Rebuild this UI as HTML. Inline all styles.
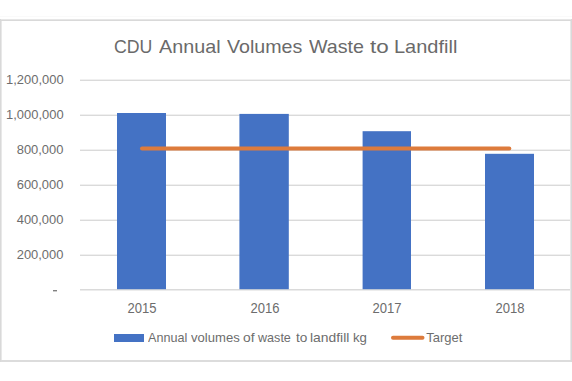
<!DOCTYPE html>
<html>
<head>
<meta charset="utf-8">
<style>
html,body{margin:0;padding:0;background:#fff;}
body{width:572px;height:381px;position:relative;overflow:hidden;font-family:"Liberation Sans",sans-serif;color:#6d6d6d;}
.t{position:absolute;white-space:nowrap;line-height:15px;font-size:13px;}
.yl{position:absolute;right:508.5px;white-space:nowrap;line-height:15px;font-size:13.4px;text-align:right;transform-origin:100% 0;transform:scaleX(0.965);}
.tw{position:absolute;top:36px;color:#6a6a6a;font-size:19px;line-height:21px;white-space:nowrap;transform-origin:0 0;}
svg{position:absolute;left:0;top:0;}
.lw{position:absolute;top:330.4px;font-size:13px;line-height:15px;white-space:nowrap;transform-origin:0 0;}
.xl{position:absolute;top:300.8px;width:60px;text-align:center;white-space:nowrap;line-height:15px;font-size:13.8px;transform:scaleX(0.945);}
</style>
</head>
<body>
<svg width="572" height="381" viewBox="0 0 572 381">
  <rect x="0" y="16" width="572" height="1" fill="#fafafa"/>
  <rect x="0" y="19" width="572" height="1" fill="#e6e6e6"/>
  <rect x="0" y="20" width="572" height="1" fill="#d9d9d9"/>
  <rect x="0" y="360" width="572" height="2" fill="#dcdcdc"/>
  <rect x="0" y="19" width="1" height="343" fill="#d9d9d9"/>
  <rect x="1" y="21" width="1" height="339" fill="#e8e8e8"/>
  <rect x="570" y="21" width="1" height="339" fill="#e8e8e8"/>
  <rect x="571" y="19" width="1" height="343" fill="#d9d9d9"/>
  <g fill="#dadada">
    <rect x="80" y="79.6" width="490" height="1.4"/>
    <rect x="80" y="114.6" width="490" height="1.4"/>
    <rect x="80" y="149.6" width="490" height="1.4"/>
    <rect x="80" y="184.6" width="490" height="1.4"/>
    <rect x="80" y="219.6" width="490" height="1.4"/>
    <rect x="80" y="254.6" width="490" height="1.4"/>
    <rect x="80" y="289" width="490" height="1.5"/>
  </g>
  <g fill="#4472c4">
    <rect x="117" y="113" width="49" height="176.2"/>
    <rect x="239.4" y="113.9" width="49.4" height="175.3"/>
    <rect x="362.6" y="131.2" width="48.4" height="158"/>
    <rect x="485" y="153.8" width="49" height="135.4"/>
    <rect x="114" y="334" width="30" height="8"/>
  </g>
  <g stroke="#dd7b3c" stroke-width="4" stroke-linecap="round" fill="none">
    <line x1="142" y1="148.4" x2="509.3" y2="148.4"/>
    <line x1="393" y1="337.8" x2="422.5" y2="337.8"/>
  </g>
  <rect x="53" y="290" width="4" height="1.4" fill="#808080"/>
</svg>
<div class="tw" style="left:113.7px;transform:scaleX(0.933)">CDU</div>
<div class="tw" style="left:159.3px;transform:scaleX(1.04)">Annual</div>
<div class="tw" style="left:227.4px;transform:scaleX(1.033)">Volumes</div>
<div class="tw" style="left:308.9px;transform:scaleX(1.035)">Waste</div>
<div class="tw" style="left:369.8px;transform:scaleX(1.18)">to</div>
<div class="tw" style="left:394.0px;transform:scaleX(1.052)">Landfill</div>
<div class="yl" style="top:72.2px">1,200,000</div>
<div class="yl" style="top:107.2px">1,000,000</div>
<div class="yl" style="top:142.2px">800,000</div>
<div class="yl" style="top:177.2px">600,000</div>
<div class="yl" style="top:212.2px">400,000</div>
<div class="yl" style="top:247.2px">200,000</div>
<div class="xl" style="left:111.9px">2015</div>
<div class="xl" style="left:235.0px">2016</div>
<div class="xl" style="left:357.2px">2017</div>
<div class="xl" style="left:479.9px">2018</div>
<div class="lw" style="left:148.0px;transform:scaleX(0.97)">Annual</div>
<div class="lw" style="left:191.3px;transform:scaleX(1.006)">volumes</div>
<div class="lw" style="left:243.0px;transform:scaleX(1.06)">of</div>
<div class="lw" style="left:258.1px;transform:scaleX(0.968)">waste</div>
<div class="lw" style="left:295.5px;transform:scaleX(1.045)">to</div>
<div class="lw" style="left:310.3px;transform:scaleX(1.066)">landfill</div>
<div class="lw" style="left:352.7px;transform:scaleX(1.017)">kg</div>
<div class="t" style="left:426.2px;top:330.4px">Target</div>
</body>
</html>
